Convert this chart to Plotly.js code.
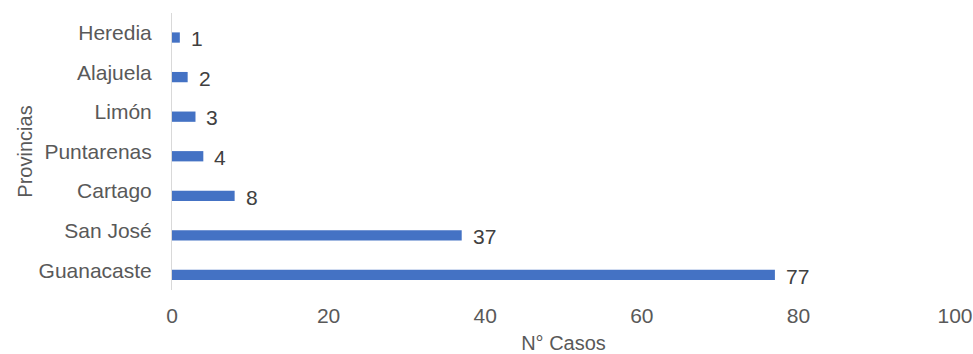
<!DOCTYPE html>
<html>
<head>
<meta charset="utf-8">
<script src="https://cdn.plot.ly/plotly-3.0.1.min.js"></script>
<style>html,body{margin:0;padding:0;background:#fff;}#chart{width:973px;height:354px;}</style>
</head>
<body>
<div id="chart"></div>
<script>
var provincias = ["Guanacaste", "San José", "Cartago", "Puntarenas", "Limón", "Alajuela", "Heredia"];
var casos = [77, 37, 8, 4, 3, 2, 1];
var xTicks = [0, 20, 40, 60, 80, 100];

var FONT = "Liberation Sans, Arial, sans-serif";

var trace = {
  type: "bar",
  orientation: "h",
  y: provincias,
  x: casos,
  textposition: "none",
  marker: {color: "#4472C4"},
  width: 0.26,
  offset: -0.25,
  hoverinfo: "none"
};

var labels = provincias.map(function (p, i) {
  return {
    x: casos[i], y: p, xref: "x", yref: "y",
    text: String(casos[i]),
    showarrow: false,
    xanchor: "left",
    yanchor: "middle",
    xshift: 9,
    yshift: -6,
    font: {family: FONT, size: 21, color: "#404040"}
  };
});

var layout = {
  width: 973,
  height: 354,
  margin: {l: 172, r: 18, t: 13, b: 64},
  paper_bgcolor: "#fff",
  plot_bgcolor: "#fff",
  showlegend: false,
  font: {family: FONT, size: 21, color: "#595959"},
  annotations: labels,
  xaxis: {
    range: [0, 100],
    tickvals: xTicks,
    ticktext: xTicks.map(String),
    showgrid: false,
    zeroline: false,
    showline: false,
    ticks: "",
    ticklabelstandoff: 11,
    tickfont: {family: FONT, size: 21, color: "#595959"},
    title: {text: "N° Casos", font: {family: FONT, size: 20, color: "#595959"}, standoff: 17}
  },
  yaxis: {
    categoryorder: "array",
    categoryarray: provincias,
    showgrid: false,
    zeroline: false,
    showline: true,
    linecolor: "#D9D9D9",
    linewidth: 1,
    ticks: "",
    ticklabelstandoff: 15,
    tickfont: {family: FONT, size: 21, color: "#595959"},
    title: {text: "Provincias", font: {family: FONT, size: 20, color: "#595959"}, standoff: 0}
  }
};

Plotly.newPlot("chart", [trace], layout, {displayModeBar: false, staticPlot: true});
</script>
</body>
</html>
